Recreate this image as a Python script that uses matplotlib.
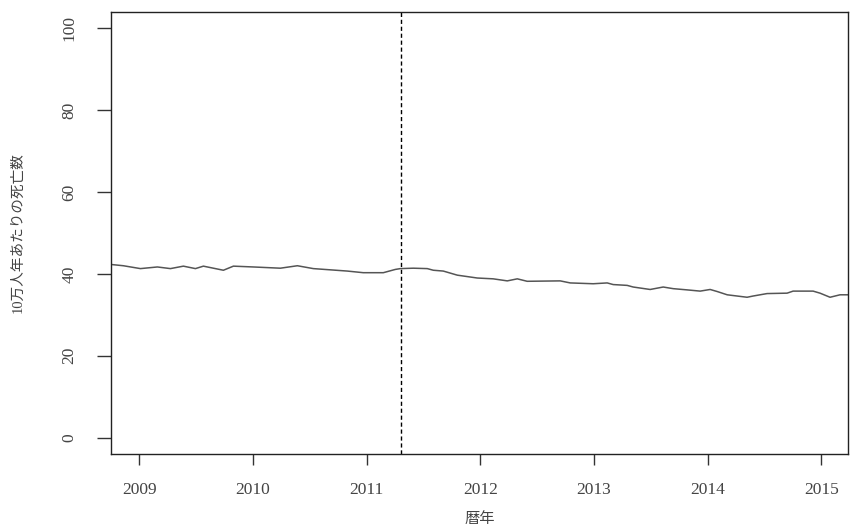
import matplotlib
matplotlib.use("Agg")
import matplotlib.pyplot as plt

# Data (decimal year, deaths per 100k person-years)
years = [2008.754, 2008.859, 2009.009, 2009.158, 2009.273, 2009.387, 2009.493,
         2009.563, 2009.651, 2009.739, 2009.827, 2010.003, 2010.240, 2010.390,
         2010.530, 2010.829, 2010.970, 2011.146, 2011.252, 2011.296, 2011.410,
         2011.533, 2011.586, 2011.674, 2011.797, 2011.973, 2012.113, 2012.237,
         2012.325, 2012.412, 2012.703, 2012.791, 2012.993, 2013.116, 2013.169,
         2013.292, 2013.345, 2013.494, 2013.609, 2013.697, 2013.820, 2013.934,
         2014.022, 2014.084, 2014.172, 2014.347, 2014.400, 2014.523, 2014.699,
         2014.752, 2014.928, 2014.989, 2015.077, 2015.165, 2015.235]
rates = [42.3, 42.0, 41.3, 41.7, 41.3, 41.9, 41.3,
         41.9, 41.4, 40.9, 41.9, 41.7, 41.4, 42.0,
         41.3, 40.7, 40.3, 40.3, 41.1, 41.3, 41.4,
         41.3, 40.9, 40.7, 39.7, 39.0, 38.8, 38.3,
         38.8, 38.2, 38.3, 37.8, 37.6, 37.8, 37.4,
         37.2, 36.8, 36.2, 36.8, 36.4, 36.1, 35.8,
         36.2, 35.7, 34.9, 34.3, 34.6, 35.2, 35.3,
         35.8, 35.8, 35.3, 34.3, 34.9, 34.9]
event_year = 2011.30
xticks = [2009, 2010, 2011, 2012, 2013, 2014, 2015]
yticks = [0, 20, 40, 60, 80, 100]
xlabel = "暦年"
ylabel = "10万人年あたりの死亡数"

plt.rcParams['font.family'] = ['Liberation Serif', 'Noto Sans CJK JP', 'DejaVu Sans']

fig = plt.figure(figsize=(8.5, 5.27), dpi=100)
ax = fig.add_axes([111/850, (527-454)/527, (848-111)/850, (454-12)/527])

ax.plot(years, rates, color='#555555', lw=1.1)
ax.axvline(event_year, color='black', lw=1.0, linestyle=(0, (3, 2)))

ax.set_xlim(2008.75, 2015.235)
ax.set_ylim(-4, 104)
ax.set_xticks(xticks)
ax.set_xticklabels([str(x) for x in xticks])
ax.set_yticks(yticks)
ax.set_yticklabels([str(y) for y in yticks], rotation=90, va='center')

for s in ax.spines.values():
    s.set_color('#222222')
    s.set_linewidth(1.0)
ax.tick_params(axis='both', direction='out', color='#333333', labelcolor='#444444',
               labelsize=12.5, width=1.0)
ax.tick_params(axis='y', length=10, pad=14)
ax.tick_params(axis='x', length=8, pad=12)

ax.set_xlabel(xlabel, color='#444444', fontsize=11, labelpad=10)
ax.set_ylabel(ylabel, color='#444444', fontsize=10.5, labelpad=27)

fig.savefig("out.png", dpi=100)
